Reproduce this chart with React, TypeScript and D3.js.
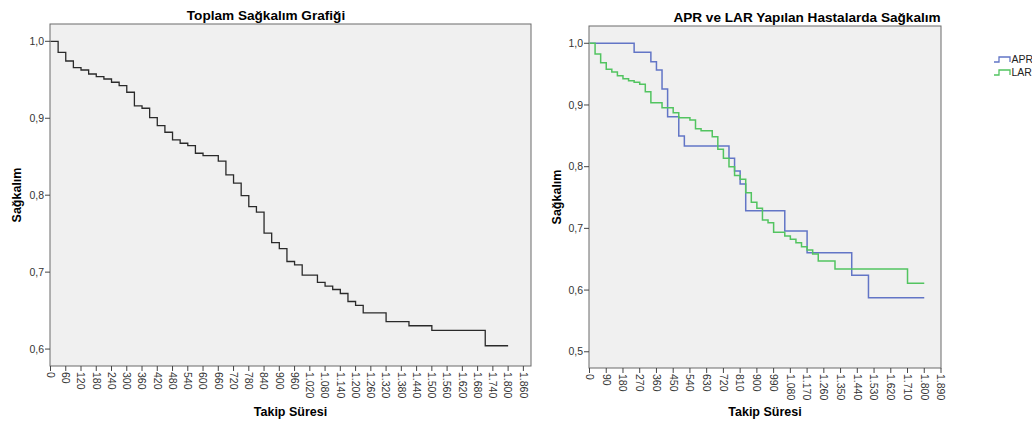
import React, { useEffect, useRef } from "react";
import * as d3 from "d3";

// Toplam sağkalım (Kaplan-Meier), gün
const totalTimes = [0, 30, 60, 90, 120, 150, 180, 210, 240, 270, 300, 330, 360, 390, 420, 450, 480, 510, 540, 570, 600, 660, 690, 720, 750, 780, 810, 840, 870, 900, 930, 960, 990, 1050, 1080, 1110, 1140, 1170, 1200, 1230, 1320, 1410, 1500, 1710, 1800];
const totalSurv = [1.0, 0.9857, 0.9744, 0.9657, 0.9627, 0.9575, 0.954, 0.951, 0.9468, 0.9423, 0.9338, 0.916, 0.913, 0.9008, 0.8904, 0.8818, 0.8718, 0.8675, 0.8645, 0.8545, 0.8514, 0.8442, 0.8264, 0.8156, 0.7995, 0.7852, 0.778, 0.7506, 0.7384, 0.7306, 0.7138, 0.7095, 0.6961, 0.6868, 0.6818, 0.6774, 0.6722, 0.6618, 0.6569, 0.6471, 0.6358, 0.6303, 0.6242, 0.6043, 0.6043];

// APR
const aprTimes = [0, 240, 330, 360, 390, 420, 480, 510, 750, 780, 810, 840, 1050, 1170, 1410, 1500, 1800];
const aprSurv = [1.0, 0.9854, 0.97, 0.9567, 0.926, 0.881, 0.8497, 0.8336, 0.8136, 0.793, 0.772, 0.7287, 0.6958, 0.6606, 0.624, 0.5877, 0.5877];

// LAR
const larTimes = [0, 30, 60, 90, 120, 150, 180, 210, 240, 270, 300, 330, 390, 450, 480, 540, 570, 600, 660, 690, 720, 750, 780, 810, 840, 870, 900, 930, 960, 990, 1050, 1080, 1110, 1140, 1170, 1200, 1230, 1320, 1710, 1800];
const larSurv = [1.0, 0.9827, 0.9686, 0.9579, 0.9535, 0.9475, 0.9427, 0.9394, 0.9368, 0.9335, 0.9216, 0.9037, 0.8956, 0.8875, 0.8794, 0.8757, 0.8616, 0.8584, 0.8487, 0.8282, 0.8136, 0.8, 0.7855, 0.7796, 0.7579, 0.7423, 0.7326, 0.7136, 0.7092, 0.6937, 0.6877, 0.6823, 0.6768, 0.6704, 0.665, 0.6585, 0.6472, 0.6342, 0.611, 0.611];

const leftXTicks = [0, 60, 120, 180, 240, 300, 360, 420, 480, 540, 600, 660, 720, 780, 840, 900, 960, 1020, 1080, 1140, 1200, 1260, 1320, 1380, 1440, 1500, 1560, 1620, 1680, 1740, 1800, 1860];
const rightXTicks = [0, 90, 180, 270, 360, 450, 540, 630, 720, 810, 900, 990, 1080, 1170, 1260, 1350, 1440, 1530, 1620, 1710, 1800, 1890];
const leftYTicks = [0.6, 0.7, 0.8, 0.9, 1.0];
const rightYTicks = [0.5, 0.6, 0.7, 0.8, 0.9, 1.0];

const legendLabels = ["APR", "LAR"];
const legendColors = ["#6275c6", "#52c460"];

const W = 1032;
const H = 423;
const FONT = "'Liberation Sans', Arial, sans-serif";

const trLocale = d3.formatLocale({
  decimal: ",",
  thousands: ".",
  grouping: [3],
  currency: ["", ""],
});
const fmtX = trLocale.format(",d");
const fmtY = trLocale.format(".1f");

const App = () => {
  const ref = useRef<SVGSVGElement>(null);

  useEffect(() => {
    const svg = d3.select(ref.current);
    svg.selectAll("*").remove();

    const panel = (opts: any) => {
      const { box, yDomain, xTicks, yTicks, title, titleX, titleY, yLabelX } = opts;
      const x = d3.scaleLinear().domain([0, 1890]).range([box.x0 + 0.5, box.x1]);
      const y = d3.scaleLinear().domain(yDomain).range([box.y1, box.y0]);
      const g = svg.append("g");

      g.append("rect")
        .attr("x", box.x0)
        .attr("y", box.y0)
        .attr("width", box.x1 - box.x0)
        .attr("height", box.y1 - box.y0)
        .attr("fill", "#f0f0f0")
        .attr("stroke", "#6a6a6a")
        .attr("stroke-width", 1);

      // y axis
      const gy = g.append("g");
      gy.selectAll("line")
        .data(yTicks)
        .join("line")
        .attr("x1", box.x0 - 5)
        .attr("x2", box.x0)
        .attr("y1", (d: number) => y(d))
        .attr("y2", (d: number) => y(d))
        .attr("stroke", "#444");
      gy.selectAll("text")
        .data(yTicks)
        .join("text")
        .attr("x", box.x0 - 6)
        .attr("y", (d: number) => y(d))
        .attr("dy", "0.35em")
        .attr("text-anchor", "end")
        .attr("font-size", 10.5)
        .attr("fill", "#333")
        .text((d: number) => fmtY(d));

      // x axis
      const gx = g.append("g");
      gx.selectAll("line")
        .data(xTicks)
        .join("line")
        .attr("x1", (d: number) => x(d))
        .attr("x2", (d: number) => x(d))
        .attr("y1", box.y1)
        .attr("y2", box.y1 + 5)
        .attr("stroke", "#444");
      gx.selectAll("text")
        .data(xTicks)
        .join("text")
        .attr("transform", (d: number) => `translate(${x(d)},${box.y1 + 6}) rotate(90)`)
        .attr("dy", "0.35em")
        .attr("text-anchor", "start")
        .attr("font-size", 10.5)
        .attr("fill", "#333")
        .text((d: number) => fmtX(d));

      g.append("text")
        .attr("x", titleX)
        .attr("y", titleY)
        .attr("text-anchor", "middle")
        .attr("font-size", 13.6)
        .attr("font-weight", "bold")
        .text(title);

      g.append("text")
        .attr("x", (box.x0 + box.x1) / 2)
        .attr("y", 416)
        .attr("text-anchor", "middle")
        .attr("font-size", 12.5)
        .attr("font-weight", "bold")
        .text("Takip Süresi");

      g.append("text")
        .attr("transform", `translate(${yLabelX},${(box.y0 + box.y1) / 2}) rotate(-90)`)
        .attr("text-anchor", "middle")
        .attr("font-size", 12.5)
        .attr("font-weight", "bold")
        .text("Sağkalım");

      return { g, x, y };
    };

    const step = (x: any, y: any) =>
      d3
        .line<[number, number]>()
        .x((d) => x(d[0]))
        .y((d) => y(d[1]))
        .curve(d3.curveStepAfter);

    /* sol panel */
    const left = panel({
      box: { x0: 50, x1: 531, y0: 24, y1: 366 },
      yDomain: [0.578, 1.0225],
      xTicks: leftXTicks,
      yTicks: leftYTicks,
      title: "Toplam Sağkalım Grafiği",
      titleX: 266,
      titleY: 20,
      yLabelX: 21,
    });
    left.g
      .append("path")
      .datum(totalTimes.map((t, i) => [t, totalSurv[i]] as [number, number]))
      .attr("fill", "none")
      .attr("stroke", "#2a2a2a")
      .attr("stroke-width", 1.3)
      .attr("d", step(left.x, left.y));

    /* sağ panel */
    const right = panel({
      box: { x0: 589, x1: 941, y0: 26, y1: 368 },
      yDomain: [0.4737, 1.028],
      xTicks: rightXTicks,
      yTicks: rightYTicks,
      title: "APR ve LAR Yapılan Hastalarda Sağkalım",
      titleX: 807,
      titleY: 21.5,
      yLabelX: 561,
    });
    const series = [
      { times: aprTimes, surv: aprSurv },
      { times: larTimes, surv: larSurv },
    ];
    series.forEach((s, k) => {
      right.g
        .append("path")
        .datum(s.times.map((t, i) => [t, s.surv[i]] as [number, number]))
        .attr("fill", "none")
        .attr("stroke", legendColors[k])
        .attr("stroke-width", 1.5)
        .attr("d", step(right.x, right.y));
    });

    // legend
    const lg = svg.append("g").attr("transform", "translate(994,59.5)");
    legendLabels.forEach((name, k) => {
      const row = lg.append("g").attr("transform", `translate(0,${k * 13})`);
      row
        .append("path")
        .attr("d", "M0,2.5H5V-2.5H16V2.5")
        .attr("fill", "none")
        .attr("stroke", legendColors[k])
        .attr("stroke-width", 1.3);
      row
        .append("text")
        .attr("x", 17.5)
        .attr("y", 0)
        .attr("dy", "0.35em")
        .attr("font-size", 10.5)
        .attr("fill", "#222")
        .text(name);
    });
  }, []);

  return (
    <svg
      ref={ref}
      width={W}
      height={H}
      style={{ position: "absolute", left: 0, top: 0, fontFamily: FONT, background: "#fff" }}
    />
  );
};

export default App;
